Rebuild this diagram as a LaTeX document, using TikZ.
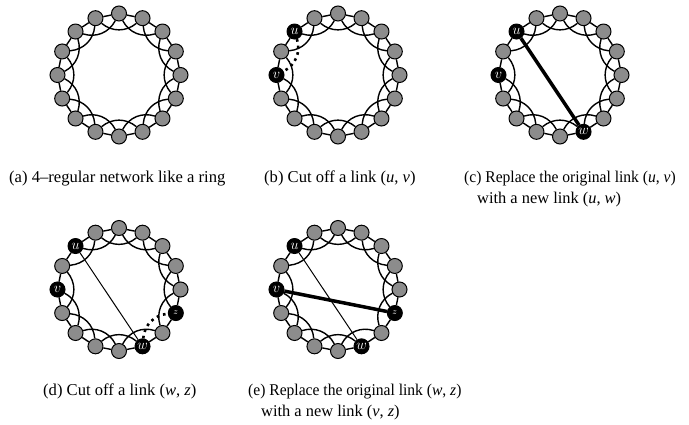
\documentclass[tikz,border=0pt]{standalone}
\usepackage{fontspec}
\setmainfont{Liberation Serif}
\newfontfamily\narrowserif[FakeStretch=0.95]{Liberation Serif}
\usetikzlibrary{backgrounds,calc}
\definecolor{nodegray}{RGB}{140,140,140}
\tikzset{
 gnode/.style={circle, draw=black, line width=1pt, fill=nodegray, minimum size=15pt, inner sep=0pt},
 bnode/.style={circle, draw=black, line width=1pt, fill=black, text=white, minimum size=15pt, inner sep=0pt, font=\fontsize{13.5}{13.5}\selectfont},
 ringline/.style={line width=1.4pt},
 cutlink/.style={line width=2.6pt, dash pattern=on 2.6pt off 4pt},
 newlink/.style={line width=3.5pt},
 oldlink/.style={line width=1pt},
 capt/.style={anchor=base west, inner sep=0pt, font=\fontsize{16.6}{20}\selectfont},
 captn/.style={anchor=base west, inner sep=0pt, font=\fontsize{16.4}{20}\narrowserif},
 captw/.style={anchor=base west, inner sep=0pt, font=\fontsize{16.4}{20}\selectfont},
}
\newcommand\graynodes[4]{%
  \foreach \k in {#4} {\node[gnode] (#1\k) at ($(#2,#3)+({22.5*\k}:61.5)$) {};}}
\newcommand\blacknode[5]{%
  \node[bnode] (#1#4) at ($(#2,#3)+({22.5*#4}:61.5)$) {#5};}
\newcommand\adjedges[1]{%
  \foreach \k [evaluate=\k as \n using {int(mod(\k+1,16))}] in {0,...,15} {\draw[ringline] (#1\k) -- (#1\n);}}
\newcommand\arcedges[2]{%
  \foreach \k [evaluate=\k as \n using {int(mod(\k+2,16))}] in {#2} {\draw[ringline] (#1\k) to[bend left=40] (#1\n);}}
\begin{document}
\begin{tikzpicture}[x=1pt,y=1pt]
\useasboundingbox (0,0) rectangle (689,-424);
% (a)
\graynodes{a}{119}{-75}{0,...,15}
% (b)
\graynodes{b}{338}{-75}{0,1,2,3,4,5,7,9,10,11,12,13,14,15}
\blacknode{b}{338}{-75}{6}{$u$}
\blacknode{b}{338}{-75}{8}{$v$}
% (c)
\graynodes{c}{560}{-75}{0,1,2,3,4,5,7,9,10,11,12,14,15}
\blacknode{c}{560}{-75}{6}{$u$}
\blacknode{c}{560}{-75}{8}{$v$}
\blacknode{c}{560}{-75}{13}{$w$}
% (d)
\graynodes{d}{119}{-289.5}{0,1,2,3,4,5,7,9,10,11,12,14}
\blacknode{d}{119}{-289.5}{6}{$u$}
\blacknode{d}{119}{-289.5}{8}{$v$}
\blacknode{d}{119}{-289.5}{13}{$w$}
\blacknode{d}{119}{-289.5}{15}{\fontsize{9}{9}\selectfont$z$}
% (e)
\graynodes{e}{338}{-289.5}{0,1,2,3,4,5,7,9,10,11,12,14}
\blacknode{e}{338}{-289.5}{6}{$u$}
\blacknode{e}{338}{-289.5}{8}{$v$}
\blacknode{e}{338}{-289.5}{13}{$w$}
\blacknode{e}{338}{-289.5}{15}{\fontsize{9}{9}\selectfont$z$}
\begin{scope}[on background layer]
 \adjedges{a}\arcedges{a}{0,...,15}
 \adjedges{b}\arcedges{b}{0,1,2,3,4,5,7,8,9,10,11,12,13,14,15}
 \draw[cutlink] (b6) to[bend left=40] (b8);
 \adjedges{c}\arcedges{c}{0,1,2,3,4,5,7,8,9,10,11,12,13,14,15}
 \draw[newlink] (c6) -- (c13);
 \adjedges{d}\arcedges{d}{0,1,2,3,4,5,7,8,9,10,11,12,14,15}
 \draw[oldlink] (d6) -- (d13);
 \draw[cutlink] (d13) to[bend left=40] (d15);
 \adjedges{e}\arcedges{e}{0,1,2,3,4,5,7,8,9,10,11,12,14,15}
 \draw[oldlink] (e6) -- (e13);
 \draw[newlink] (e8) -- (e15);
\end{scope}
% captions
\node[capt] (capa) at (9,-182) {(a) 4–regular network like a ring};
\node[capt] (capb) at (264,-182) {(b) Cut off a link (\textit{u}, \textit{v})};
\node[captn] (capc1) at (464,-182) {(c) Replace the original link (\textit{u}, \textit{v})};
\node[captw] (capc2) at (477,-203) {with a new link (\textit{u}, \textit{w})};
\node[capt] (capd) at (43,-395) {(d) Cut off a link (\textit{w}, \textit{z})};
\node[captn] (cape1) at (248,-395) {(e) Replace the original link (\textit{w}, \textit{z})};
\node[captw] (cape2) at (261,-416) {with a new link (\textit{v}, \textit{z})};
\end{tikzpicture}
\end{document}
